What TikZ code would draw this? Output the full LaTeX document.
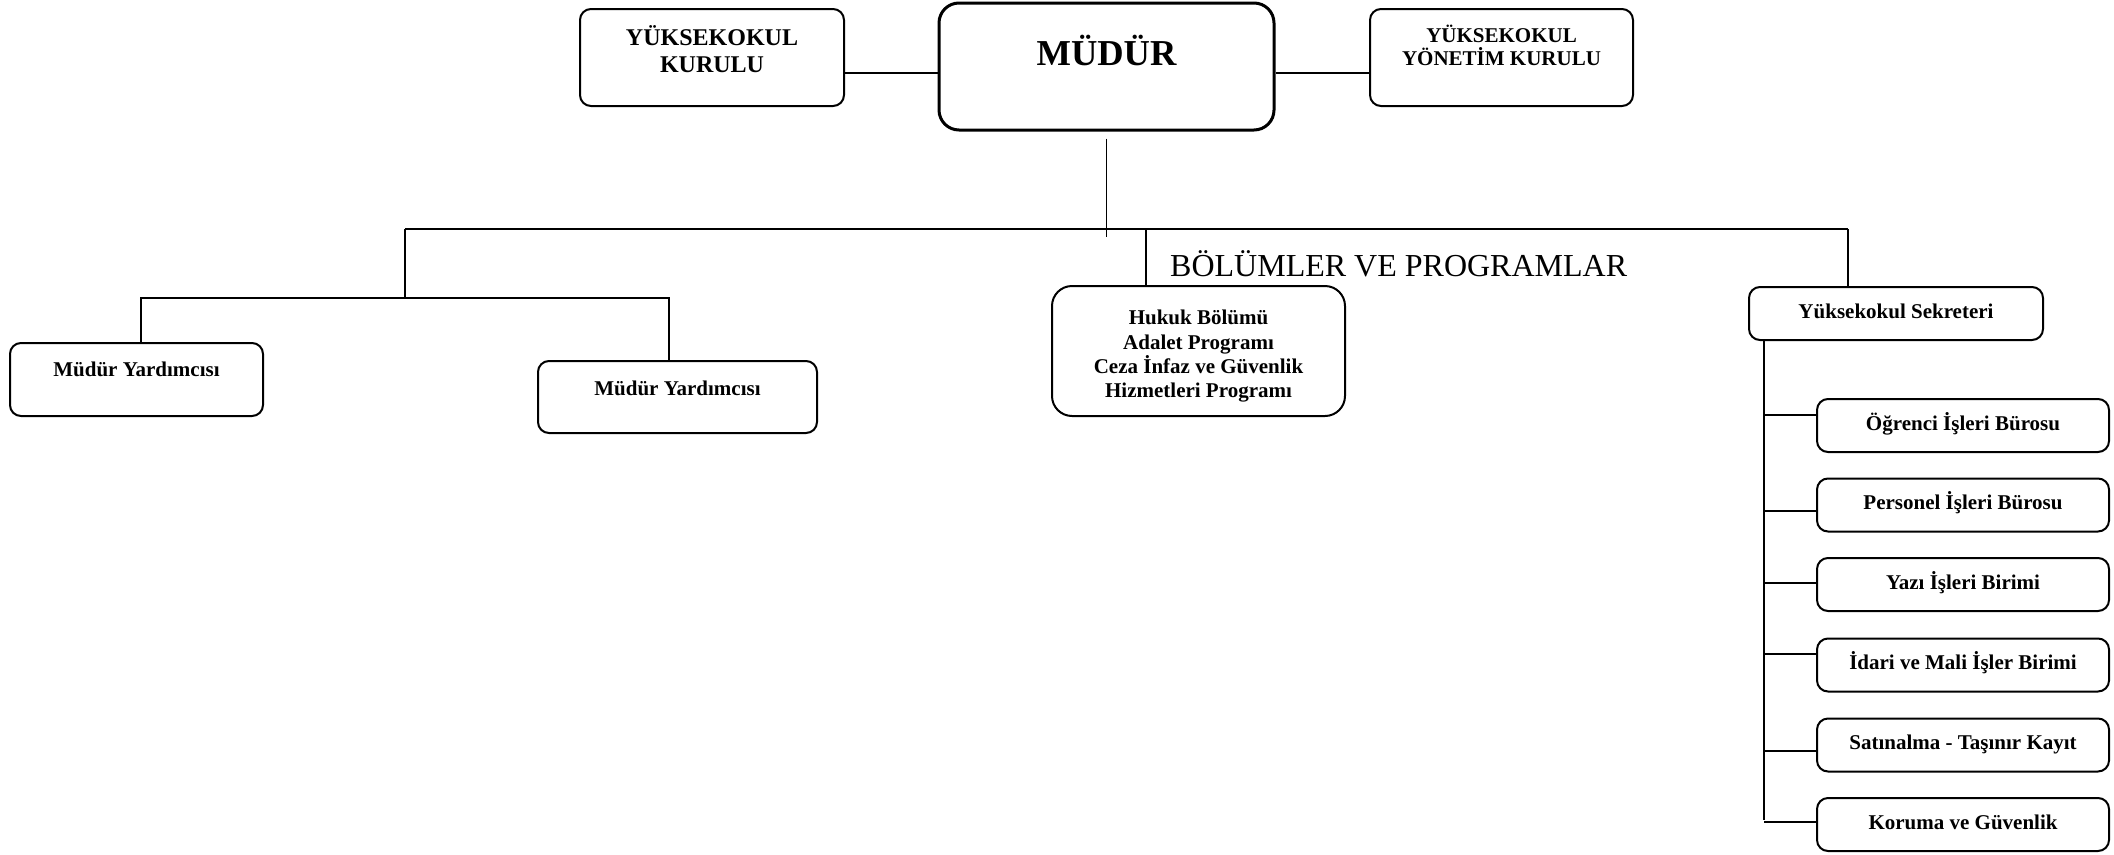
\documentclass[tikz,border=0pt]{standalone}
\usepackage{fontspec}
\setmainfont{Liberation Serif}
\tikzset{
  unit/.style={draw, line width=2pt, rounded corners=11pt, inner sep=0pt, align=center,
    text height=15pt, text depth=6pt, font=\fontsize{21}{24.3}\selectfont\bfseries},
  link/.style={line width=2pt},
  thinlink/.style={line width=1.3pt}
}
\begin{document}
\begin{tikzpicture}[x=1pt,y=-1pt]
  \useasboundingbox (0,0) rectangle (2114,854);
  % top row
  \node[unit, line width=3pt, rounded corners=20pt, minimum width=335pt, minimum height=127pt,
    font=\fontsize{36.5}{40}\selectfont\bfseries, text height=24pt, text depth=27pt] (mudur) at (1106.5,66.5) {MÜDÜR};
  \node[unit, minimum width=264pt, minimum height=97pt, text height=, text depth=,
    font=\fontsize{24}{27.5}\selectfont\bfseries] (yk) at (712,57.5) {YÜKSEKOKUL\\KURULU\rule[-17pt]{0pt}{0pt}};
  \node[unit, minimum width=263pt, minimum height=97pt, text height=, text depth=,
    font=\fontsize{21}{23.5}\selectfont\bfseries] (yyk) at (1501.5,57.5) {YÜKSEKOKUL\\YÖNETİM KURULU\rule[-24pt]{0pt}{0pt}};
  \coordinate (top) at (0,73);
  \draw[link] (yk.east |- top) -- (mudur.west |- top);
  \draw[link] (mudur.east |- top) -- (yyk.west |- top);
  % second row
  \node[unit, minimum width=253pt, minimum height=73pt, text depth=22pt] (my1) at (136.5,379.5) {Müdür Yardımcısı};
  \node[unit, minimum width=279pt, minimum height=72pt, text depth=19pt] (my2) at (677.5,397) {Müdür Yardımcısı};
  \node[unit, rounded corners=20pt, minimum width=293pt, minimum height=130pt, text height=, text depth=] (hukuk) at (1198.5,351)
    {Hukuk Bölümü\rule{0pt}{25pt}\\Adalet Programı\\Ceza İnfaz ve Güvenlik\\Hizmetleri Programı};
  \node[unit, minimum width=294pt, minimum height=53pt] (sek) at (1896,313.5) {Yüksekokul Sekreteri};
  \node[anchor=base west, inner sep=0pt, font=\fontsize{32}{36}\selectfont] (bp) at (1170,276) {BÖLÜMLER VE PROGRAMLAR};
  \coordinate (bL) at (405,229);
  \coordinate (bH) at (1146,229);
  \coordinate (bR) at (1848,229);
  \coordinate (vL) at (141,298);
  \coordinate (vR) at (669,298);
  \draw[thinlink] ([yshift=-7pt]mudur.south) -- ++(0,98);
  \draw[thinlink] (bL) -- (bR);
  \draw[link] (bR) -- (bR |- sek.north);
  \draw[thinlink] (bH) -- (bH |- hukuk.north);
  \draw[link] (bL) -- (bL |- vL);
  \draw[link] (my1.north -| vL) -- (vL) -- (vR) -- (my2.north -| vR);
  % secretary units
  \coordinate (sp) at (1764,820);
  \draw[link] (sp |- sek.south) -- (sp);
  \foreach \nm/\yc/\yl/\txt in {ogr/425.5/415/Öğrenci İşleri Bürosu, per/505/511/Personel İşleri Bürosu,
      yaz/584.5/583/Yazı İşleri Birimi, ida/665/654/İdari ve Mali İşler Birimi,
      sat/745/751/Satınalma - Taşınır Kayıt, kor/824.5/822/Koruma ve Güvenlik}{
    \node[unit, minimum width=292pt, minimum height=53pt] (\nm) at (1963,\yc) {\txt};
    \coordinate (c\nm) at (1764,\yl);
    \draw[link] (c\nm) -- (c\nm -| \nm.west);
  }
\end{tikzpicture}
\end{document}
